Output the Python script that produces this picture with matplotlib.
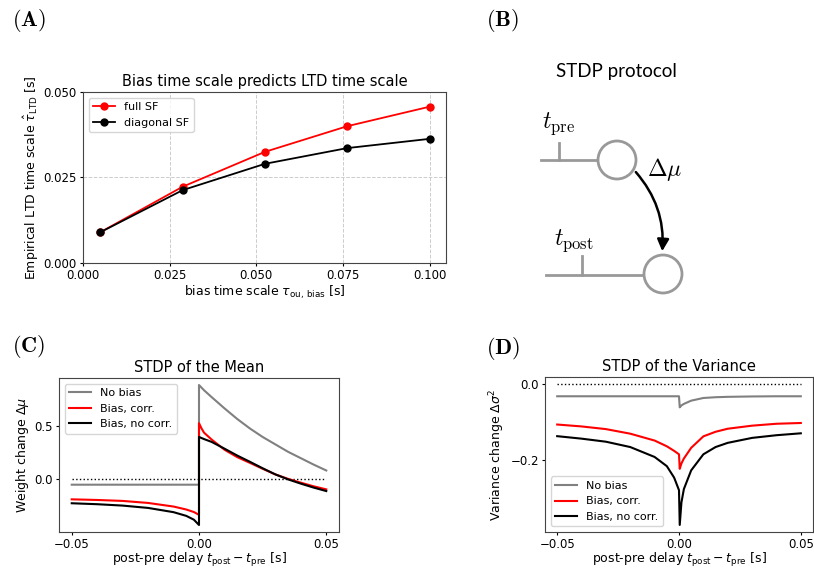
import matplotlib
matplotlib.use("Agg")
import matplotlib.pyplot as plt
from matplotlib.patches import Circle, FancyArrowPatch

# ---- panel A data ----
tau_bias = [0.005, 0.02875, 0.0525, 0.07625, 0.1]
tau_ltd_full = [0.0090, 0.0223, 0.0325, 0.0400, 0.0457]
tau_ltd_diag = [0.0090, 0.0213, 0.0290, 0.0336, 0.0363]

# ---- panel C data (STDP of the mean) ----
t_c = [-0.05, -0.04, -0.03, -0.02, -0.01, -0.005, -0.002, 0.0,
       0.0, 0.001, 0.002, 0.005, 0.01, 0.015, 0.02, 0.025, 0.03, 0.035, 0.04, 0.045, 0.05]
mu_nobias = [-0.05, -0.05, -0.05, -0.05, -0.05, -0.05, -0.05, -0.05,
             0.89, 0.865, 0.84, 0.775, 0.67, 0.57, 0.48, 0.40, 0.33, 0.26, 0.20, 0.14, 0.084]
mu_corr = [-0.188, -0.194, -0.203, -0.222, -0.256, -0.284, -0.308, -0.334,
           0.53, 0.48, 0.44, 0.375, 0.28, 0.21, 0.156, 0.10, 0.047, 0.005, -0.031, -0.065, -0.094]
mu_nocorr = [-0.225, -0.234, -0.247, -0.269, -0.309, -0.344, -0.38, -0.43,
             0.40, 0.39, 0.38, 0.353, 0.29, 0.225, 0.166, 0.105, 0.047, 0.0, -0.04, -0.077, -0.11]

# ---- panel D data (STDP of the variance) ----
t_d = [-0.05, -0.04, -0.03, -0.02, -0.01, -0.005, -0.002, 0.0,
       0.0003, 0.001, 0.002, 0.005, 0.01, 0.015, 0.02, 0.03, 0.04, 0.05]
var_nobias = [-0.032, -0.032, -0.032, -0.032, -0.032, -0.032, -0.032, -0.032,
              -0.061, -0.056, -0.052, -0.0435, -0.0365, -0.0345, -0.0335, -0.0325, -0.032, -0.032]
var_corr = [-0.106, -0.111, -0.118, -0.130, -0.148, -0.163, -0.175, -0.184,
            -0.222, -0.208, -0.195, -0.167, -0.137, -0.125, -0.117, -0.109, -0.104, -0.102]
var_nocorr = [-0.1365, -0.143, -0.151, -0.165, -0.191, -0.215, -0.245, -0.278,
              -0.369, -0.31, -0.275, -0.226, -0.184, -0.165, -0.154, -0.141, -0.134, -0.129]

plt.rcParams['font.size'] = 8.5
plt.rcParams['axes.linewidth'] = 0.8
plt.rcParams['axes.edgecolor'] = '#444444'
for ax_name in ['xtick', 'ytick']:
    plt.rcParams[ax_name + '.major.size'] = 2.5
    plt.rcParams[ax_name + '.major.pad'] = 2

W, H = 814, 569
fig = plt.figure(figsize=(W / 100, H / 100), dpi=100)

# overlay for the diagram (pixel coordinates)
ov = fig.add_axes([0, 0, 1, 1])
ov.set_xlim(0, W)
ov.set_ylim(H, 0)
ov.axis('off')


def px_axes(l, t, r, b):
    return fig.add_axes([l / W, 1 - b / H, (r - l) / W, (b - t) / H])


# ---- (A) ----
axA = px_axes(83, 92, 446, 263)
axA.plot(tau_bias, tau_ltd_full, '-o', color='red', lw=1.3, ms=5, label='full SF')
axA.plot(tau_bias, tau_ltd_diag, '-o', color='black', lw=1.3, ms=5, label='diagonal SF')
axA.set_ylim(0, 0.05)
axA.set_xticks([0, 0.025, 0.05, 0.075, 0.1])
axA.set_xticklabels(['0.000', '0.025', '0.050', '0.075', '0.100'])
axA.set_yticks([0, 0.025, 0.05])
axA.set_yticklabels(['0.000', '0.025', '0.050'])
axA.grid(True, ls='--', color='#cccccc', lw=0.7)
axA.set_title('Bias time scale predicts LTD time scale', fontsize=10.5, pad=4)
axA.set_xlabel(r'bias time scale $\tau_{\rm ou,\,bias}$ [s]', fontsize=9, labelpad=1)
axA.set_ylabel(r'Empirical LTD time scale $\hat{\tau}_{\rm LTD}$ [s]', fontsize=9, labelpad=2)
axA.legend(loc='upper left', fontsize=8)

# ---- (C) ----
axC = px_axes(59, 378, 339, 532)
axC.plot([t_c[0], t_c[-1]], [0, 0], ':', color='black', lw=1)
axC.plot(t_c, mu_nobias, color='gray', lw=1.5, label='No bias')
axC.plot(t_c, mu_corr, color='red', lw=1.5, label='Bias, corr.')
axC.plot(t_c, mu_nocorr, color='black', lw=1.5, label='Bias, no corr.')
axC.set_xticks([-0.05, 0, 0.05])
axC.set_xticklabels(['\u22120.05', '0.00', '0.05'])
axC.set_yticks([0, 0.5])
axC.set_yticklabels(['0.0', '0.5'])
axC.set_title('STDP of the Mean', fontsize=10.5, pad=4)
axC.set_xlabel(r'post-pre delay $t_{\rm post} - t_{\rm pre}$ [s]', fontsize=9, labelpad=0)
axC.set_ylabel(r'Weight change $\Delta\mu$', fontsize=9, labelpad=2)
axC.legend(loc='upper left', fontsize=8)

# ---- (D) ----
axD = px_axes(545, 377, 813, 532)
axD.plot([t_d[0], t_d[-1]], [0, 0], ':', color='black', lw=1)
axD.plot(t_d, var_nobias, color='gray', lw=1.5, label='No bias')
axD.plot(t_d, var_corr, color='red', lw=1.5, label='Bias, corr.')
axD.plot(t_d, var_nocorr, color='black', lw=1.5, label='Bias, no corr.')
axD.set_xticks([-0.05, 0, 0.05])
axD.set_xticklabels(['\u22120.05', '0.00', '0.05'])
axD.set_yticks([0, -0.2])
axD.set_yticklabels(['0.0', '\u22120.2'])
axD.set_title('STDP of the Variance', fontsize=10.5, pad=4)
axD.set_xlabel(r'post-pre delay $t_{\rm post} - t_{\rm pre}$ [s]', fontsize=9, labelpad=0)
axD.set_ylabel(r'Variance change $\Delta\sigma^2$', fontsize=9, labelpad=2)
axD.legend(loc='lower left', fontsize=8)

# ---- (B) diagram ----
grey = '#999999'
ov.text(556, 77, 'STDP protocol', family='Lato', fontsize=13.5, va='baseline', ha='left')
ov.plot([541, 597], [160, 160], color=grey, lw=2)
ov.plot([559, 559], [143, 160], color=grey, lw=2)
ov.add_patch(Circle((617, 160), 19, fill=False, ec=grey, lw=2))
ov.plot([546, 643], [275, 275], color=grey, lw=2)
ov.plot([582, 582], [256, 275], color=grey, lw=2)
ov.add_patch(Circle((663, 274), 19, fill=False, ec=grey, lw=2))
ov.add_patch(FancyArrowPatch((634, 170), (662, 254), connectionstyle='arc3,rad=-0.22',
                             arrowstyle='-|>,head_length=7,head_width=3.5', color='black', lw=1.8))
ov.text(542, 128, r'$t_{\rm pre}$', math_fontfamily='cm', fontsize=17, va='baseline')
ov.text(554, 245, r'$t_{\rm post}$', math_fontfamily='cm', fontsize=17, va='baseline')
ov.text(647, 176, r'$\Delta\mu$', math_fontfamily='cm', fontsize=17, va='baseline')

# ---- panel letters ----
for lab, x, y in [('A', 12, 7), ('B', 486, 7), ('C', 12, 333), ('D', 486, 335)]:
    fig.text(x / W, 1 - y / H, r'$\mathbf{(%s)}$' % lab, math_fontfamily='cm',
             fontsize=16, ha='left', va='top')

fig.savefig('out.png', dpi=100)
